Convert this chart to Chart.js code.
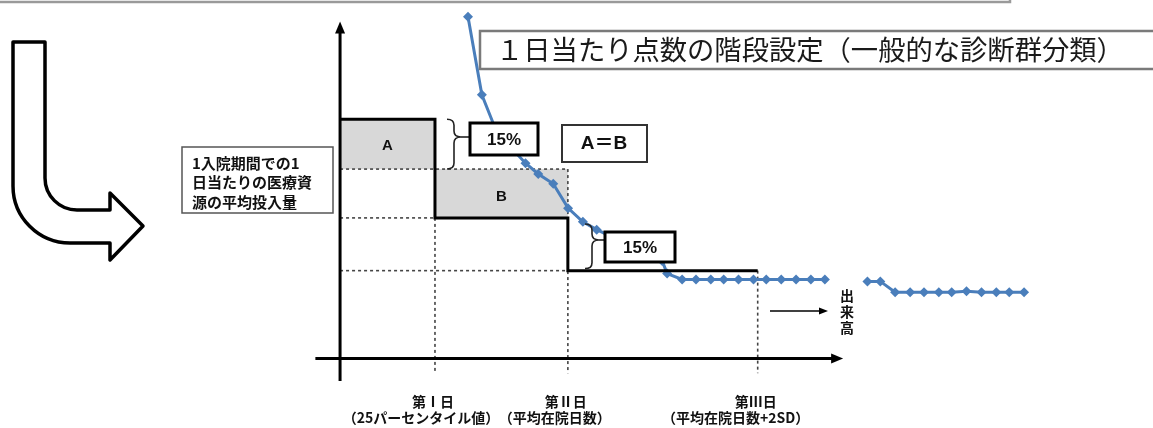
<!DOCTYPE html>
<html><head><meta charset="utf-8">
<script src="https://cdn.jsdelivr.net/npm/chart.js@4/dist/chart.umd.min.js"></script>
<style>html,body{margin:0;padding:0;background:#fff;overflow:hidden}canvas{display:block}</style>
</head><body><canvas id="c" width="1153" height="428"></canvas>
<script>
// ---------- data ----------
const titleText = '１日当たり点数の階段設定（一般的な診断群分類）';
const yLabelLines = ['1入院期間での1', '日当たりの医療資', '源の平均投入量'];
const dayNames = ['第Ⅰ日', '第Ⅱ日', '第Ⅲ日'];
const dayNotes = ['（25パーセンタイル値）', '（平均在院日数）', '（平均在院日数+2SD）'];
const stepDays = [0, 5, 12, 22];          // 0, 第I日, 第II日, 第III日
const stepPoints = [24.5, 14.4, 9.0];     // 1日当たり点数 for each period
const areaLevel = 19.4;                   // level where A = B
const dropLabels = ['15%', '15%'];
const equalLabel = 'A＝B';
const areaNames = ['A', 'B'];
const volumeLabel = ['出', '来', '高'];
// blue actual curve (days, points); null = gap
const blueX = [6.74, 7.47, 8.25, 9.77, 10.44, 11.23, 12.01, 12.79, 13.52, 16.97, 17.23, 18.02, 18.75, 19.53, 20.21, 20.99, 21.78, 22.45, 23.24, 24.02, 24.80, 25.54, 26.5, 27.78, 28.46, 29.24, 30.03, 30.76, 31.54, 32.22, 33.00, 33.79, 34.57, 35.25, 36.03];
const blueY = [35.0, 27.0, 23.2, 20.0, 18.9, 17.9, 15.4, 14.0, 13.2, 10.0, 8.7, 8.1, 8.1, 8.1, 8.1, 8.1, 8.1, 8.1, 8.1, 8.1, 8.1, 8.1, null, 7.9, 7.9, 6.8, 6.8, 6.8, 6.8, 6.8, 6.9, 6.8, 6.8, 6.8, 6.8];

// ---------- layout ----------
const X_MIN = -17.65, X_MAX = 42.56, Y_MIN = -6.6, Y_MAX = 36.2;
const AXIS_X_FROM = -1.3, AXIS_X_TO = 26.5, AXIS_Y_FROM = -2.3, AXIS_Y_TO = 34.5, GUIDE_BOTTOM = -1.5;
const BLUE = '#4a7ebb';
const JP = '"Noto Sans CJK JP", "Noto Sans", sans-serif';

const bluePts = blueX.map((x, i) => ({ x, y: blueY[i] }));
const stepPts = [];
for (let i = 0; i < stepPoints.length; i++) {
  stepPts.push({ x: stepDays[i], y: stepPoints[i] }, { x: stepDays[i + 1], y: stepPoints[i] });
}

function brace(ctx, x, yTop, yBot, yTip, w) {
  const xm = x + w / 2, r = Math.min(6, (yTip - yTop) / 2, (yBot - yTip) / 2);
  ctx.beginPath();
  ctx.moveTo(x, yTop);
  ctx.quadraticCurveTo(xm, yTop, xm, yTop + r);
  ctx.lineTo(xm, yTip - r);
  ctx.quadraticCurveTo(xm, yTip, x + w, yTip);
  ctx.quadraticCurveTo(xm, yTip, xm, yTip + r);
  ctx.lineTo(xm, yBot - r);
  ctx.quadraticCurveTo(xm, yBot, x, yBot);
  ctx.stroke();
}
function box(ctx, x, y, w, h, lw, color) {
  ctx.fillStyle = '#fff'; ctx.fillRect(x, y, w, h);
  ctx.lineWidth = lw; ctx.strokeStyle = color; ctx.strokeRect(x, y, w, h);
}

const diagram = {
  id: 'diagram',
  beforeDatasetsDraw(chart) {
    const ctx = chart.ctx, X = v => chart.scales.x.getPixelForValue(v), Y = v => chart.scales.y.getPixelForValue(v);
    ctx.save();
    // top frame
    ctx.strokeStyle = '#9a9a9a'; ctx.lineWidth = 2.5;
    ctx.beginPath(); ctx.moveTo(0, 2); ctx.lineTo(1010, 2); ctx.lineTo(1010, -2); ctx.stroke();
    // left curved arrow
    ctx.beginPath();
    ctx.moveTo(13, 42); ctx.lineTo(45, 42); ctx.lineTo(45, 178);
    ctx.arcTo(45, 210, 77, 210, 32); ctx.lineTo(110, 210);
    ctx.lineTo(110, 193); ctx.lineTo(143, 226); ctx.lineTo(110, 260); ctx.lineTo(110, 243); ctx.lineTo(70, 243);
    ctx.arcTo(13, 243, 13, 186, 57); ctx.closePath();
    ctx.lineJoin = 'round'; ctx.lineWidth = 3.5; ctx.strokeStyle = '#000'; ctx.fillStyle = '#fff';
    ctx.fill(); ctx.stroke();
    // grey areas A and B
    ctx.fillStyle = '#d8d8d8';
    ctx.fillRect(X(stepDays[0]), Y(stepPoints[0]), X(stepDays[1]) - X(stepDays[0]), Y(areaLevel) - Y(stepPoints[0]));
    ctx.fillRect(X(stepDays[1]), Y(areaLevel), X(stepDays[2]) - X(stepDays[1]), Y(stepPoints[1]) - Y(areaLevel));
    // dotted guides
    ctx.strokeStyle = '#444'; ctx.lineWidth = 1.6; ctx.setLineDash([3, 3]);
    const seg = (x1, y1, x2, y2) => { ctx.beginPath(); ctx.moveTo(X(x1), Y(y1)); ctx.lineTo(X(x2), Y(y2)); ctx.stroke(); };
    seg(0, areaLevel, stepDays[2], areaLevel);
    seg(0, stepPoints[1], stepDays[1], stepPoints[1]);
    seg(0, stepPoints[2], stepDays[2], stepPoints[2]);
    seg(stepDays[1], stepPoints[1], stepDays[1], GUIDE_BOTTOM);
    seg(stepDays[2], areaLevel, stepDays[2], GUIDE_BOTTOM);
    seg(stepDays[3], stepPoints[2], stepDays[3], GUIDE_BOTTOM);
    ctx.setLineDash([]);
    // axes
    ctx.strokeStyle = '#000'; ctx.fillStyle = '#000'; ctx.lineWidth = 3;
    ctx.beginPath(); ctx.moveTo(X(AXIS_X_FROM), Y(0)); ctx.lineTo(X(AXIS_X_TO) - 8, Y(0)); ctx.stroke();
    ctx.beginPath(); ctx.moveTo(X(0), Y(AXIS_Y_FROM)); ctx.lineTo(X(0), Y(AXIS_Y_TO) + 8); ctx.stroke();
    ctx.beginPath(); ctx.moveTo(X(AXIS_X_TO), Y(0)); ctx.lineTo(X(AXIS_X_TO) - 12, Y(0) - 5); ctx.lineTo(X(AXIS_X_TO) - 12, Y(0) + 5); ctx.closePath(); ctx.fill();
    ctx.beginPath(); ctx.moveTo(X(0), Y(AXIS_Y_TO)); ctx.lineTo(X(0) - 5, Y(AXIS_Y_TO) + 12); ctx.lineTo(X(0) + 5, Y(AXIS_Y_TO) + 12); ctx.closePath(); ctx.fill();
    ctx.restore();
  },
  afterDatasetsDraw(chart) {
    const ctx = chart.ctx, X = v => chart.scales.x.getPixelForValue(v), Y = v => chart.scales.y.getPixelForValue(v);
    ctx.save();
    ctx.textAlign = 'center'; ctx.textBaseline = 'middle';
    // A / B labels
    ctx.fillStyle = '#111'; ctx.font = 'bold 15px "Liberation Sans", Arial, sans-serif';
    ctx.fillText(areaNames[0], X((stepDays[0] + stepDays[1]) / 2), Y((stepPoints[0] + areaLevel) / 2) + 2);
    ctx.fillText(areaNames[1], X((stepDays[1] + stepDays[2]) / 2), Y((areaLevel + stepPoints[1]) / 2) + 3);
    // braces
    ctx.strokeStyle = '#222'; ctx.lineWidth = 1.6;
    brace(ctx, 447, Y(stepPoints[0]), Y(areaLevel), 137, 14);
    ctx.beginPath(); ctx.moveTo(461, 137); ctx.lineTo(470, 137); ctx.stroke();
    brace(ctx, 585, 224, Y(stepPoints[2]) - 2, 240, 14);
    ctx.beginPath(); ctx.moveTo(599, 240); ctx.lineTo(605, 240); ctx.stroke();
    // 15% boxes
    box(ctx, 470, 123, 68, 32, 3, '#000');
    box(ctx, 605, 232, 70, 30, 3, '#000');
    ctx.fillStyle = '#111'; ctx.font = 'bold 17px "Liberation Sans", Arial, sans-serif';
    ctx.fillText(dropLabels[0], 504, 140);
    ctx.fillText(dropLabels[1], 640, 248);
    // A=B box
    box(ctx, 562, 125, 85, 37, 2, '#333');
    ctx.font = 'bold 19px "Liberation Sans", ' + JP;
    ctx.fillStyle = '#111';
    ctx.fillText(equalLabel, 604, 144);
    // y label box
    box(ctx, 182, 147, 151, 66, 1.5, '#555');
    ctx.textAlign = 'left'; ctx.fillStyle = '#111'; ctx.font = 'bold 15px ' + JP;
    yLabelLines.forEach((t, i) => ctx.fillText(t, 192, 163 + i * 19.5));
    // title box
    box(ctx, 480, 31, 700, 38, 2.5, '#7a7a7a');
    ctx.font = '27.3px ' + JP; ctx.fillStyle = '#1a1a1a';
    ctx.fillText(titleText, 496, 50);
    // day labels
    ctx.textAlign = 'center'; ctx.font = 'bold 14px ' + JP; ctx.fillStyle = '#111';
    const noteOff = [-14, -13, -22];
    for (let i = 0; i < dayNames.length; i++) {
      const px = X(stepDays[i + 1]);
      ctx.fillText(dayNames[i], px - 2, 402);
      ctx.fillText(dayNotes[i], px + noteOff[i], 418);
    }
    // volume arrow + label
    ctx.strokeStyle = '#000'; ctx.lineWidth = 1.5;
    ctx.beginPath(); ctx.moveTo(770, 311); ctx.lineTo(822, 311); ctx.stroke();
    ctx.fillStyle = '#000';
    ctx.beginPath(); ctx.moveTo(828, 311); ctx.lineTo(819, 307.5); ctx.lineTo(819, 314.5); ctx.closePath(); ctx.fill();
    ctx.font = 'bold 14px ' + JP; ctx.fillStyle = '#111';
    volumeLabel.forEach((t, i) => ctx.fillText(t, 847, 296 + i * 16));
    ctx.restore();
  }
};

new Chart(document.getElementById('c'), {
  type: 'line',
  data: {
    datasets: [
      { data: bluePts, borderColor: BLUE, backgroundColor: BLUE, borderWidth: 3,
        pointStyle: 'rectRot', pointRadius: 5, pointBorderWidth: 0, pointBackgroundColor: BLUE,
        spanGaps: false, tension: 0, order: 2 },
      { data: stepPts, borderColor: '#000', borderWidth: 3, pointRadius: 0, tension: 0, order: 1,
        borderJoinStyle: 'miter' }
    ]
  },
  options: {
    responsive: false, animation: false, devicePixelRatio: 1,
    layout: { padding: 0 },
    plugins: { legend: { display: false }, tooltip: { enabled: false }, title: { display: false } },
    scales: {
      x: { type: 'linear', min: X_MIN, max: X_MAX, display: false },
      y: { type: 'linear', min: Y_MIN, max: Y_MAX, display: false }
    }
  },
  plugins: [diagram]
});
</script>
</body></html>
